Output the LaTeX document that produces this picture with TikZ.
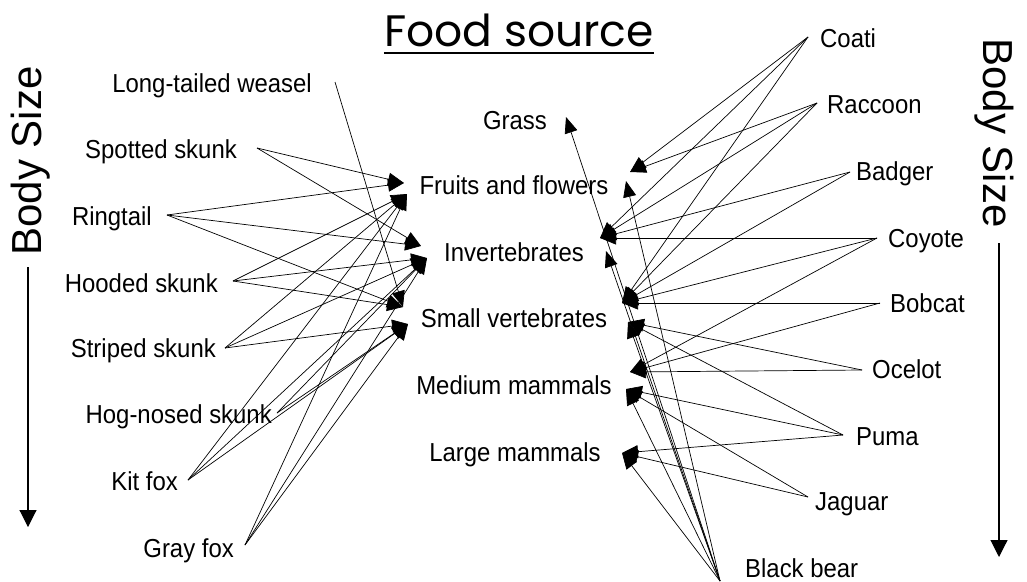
\documentclass[tikz,border=0pt]{standalone}
\usepackage{fontspec}
\setmainfont[FakeStretch=0.92]{Liberation Sans}
\newfontfamily\sizefont{Liberation Sans}
\newfontfamily\titlefont{Poppins}
\usetikzlibrary{arrows.meta}

\begin{document}
\begin{tikzpicture}[x=1pt,y=-1pt,
    animal/.style={inner sep=0pt,font=\fontsize{26}{26}\selectfont},
    food/.style={inner sep=0pt,anchor=base,font=\fontsize{26}{26}\selectfont},
    eats/.style={line width=0.7pt,-{Triangle[length=16pt,width=13pt]}},
    sizearrow/.style={line width=1.1pt,-{Triangle[length=17pt,width=17pt]}}]
  \useasboundingbox (0,0) rectangle (1027,581);

  % title
  \node[anchor=base,inner sep=0pt,font=\titlefont\fontsize{44}{44}\selectfont]
        (title) at (519,46) {Food source};
  \draw[line width=2pt]
     ([yshift=-7pt]title.base west) -- ([yshift=-7pt]title.base east);

  % body size
  \node[rotate=90,inner sep=0pt,font=\sizefont\fontsize{42}{42}\selectfont]
        (sizeL) at (31,161) {Body Size};
  \node[rotate=-90,inner sep=0pt,font=\sizefont\fontsize{42}{42}\selectfont]
        (sizeR) at (994,133) {Body Size};
  \coordinate (sizeL-a) at (28,267);
  \coordinate (sizeL-b) at (28,527);
  \coordinate (sizeR-a) at (999,243);
  \coordinate (sizeR-b) at (999,557);
  \draw[sizearrow] (sizeL-a) -- (sizeL-b);
  \draw[sizearrow] (sizeR-a) -- (sizeR-b);

  % food
  \node[food] (grass)  at (515,129) {Grass};
  \node[food] (fruits) at (514,194) {Fruits and flowers};
  \node[food] (invert) at (514,261) {Invertebrates};
  \node[food] (small)  at (514,327) {Small vertebrates};
  \node[food] (medium) at (514,394) {Medium mammals};
  \node[food] (large)  at (515,461) {Large mammals};

  % arrow ends, left of the food
  \coordinate (fruits-la) at (404,183);
  \coordinate (fruits-lb) at (407,194);
  \coordinate (invert-la) at (421,246);
  \coordinate (invert-lb) at (427,258);
  \coordinate (small-la)  at (403,307);
  \coordinate (small-lb)  at (408,324);
  % arrow ends, right of the food
  \coordinate (grass-r)   at (566,117);
  \coordinate (fruits-ra) at (630,172);
  \coordinate (fruits-rb) at (626,181);
  \coordinate (invert-ra) at (600,238);
  \coordinate (invert-rb) at (606,251);
  \coordinate (small-ra)  at (622,303);
  \coordinate (small-rb)  at (628,322);
  \coordinate (medium-ra) at (630,372);
  \coordinate (medium-rb) at (626,389);
  \coordinate (large-r)   at (622,453);

  % small carnivores
  \node[animal,anchor=base east] (weasel)   at (312,92)  {Long-tailed weasel};
  \node[animal,anchor=base east] (spotted)  at (237,158) {Spotted skunk};
  \node[animal,anchor=base east] (ringtail) at (152,225) {Ringtail};
  \node[animal,anchor=base east] (hooded)   at (218,292) {Hooded skunk};
  \node[animal,anchor=base east] (striped)  at (216,357) {Striped skunk};
  \node[animal,anchor=base east] (hognosed) at (272,423) {Hog-nosed skunk};
  \node[animal,anchor=base east] (kitfox)   at (178,490) {Kit fox};
  \node[animal,anchor=base east] (grayfox)  at (234,557) {Gray fox};

  \coordinate (weasel-o)   at (335,82);
  \coordinate (spotted-o)  at (257,148);
  \coordinate (ringtail-o) at (167,215);
  \coordinate (hooded-o)   at (233,281);
  \coordinate (striped-o)  at (225,348);
  \coordinate (hognosed-o) at (277,413);
  \coordinate (kitfox-o)   at (188,480);
  \coordinate (grayfox-o)  at (245,545);

  % large carnivores
  \node[animal,anchor=base west] (coati)   at (820,47)  {Coati};
  \node[animal,anchor=base west] (raccoon) at (827,113) {Raccoon};
  \node[animal,anchor=base west] (badger)  at (856,180) {Badger};
  \node[animal,anchor=base west] (coyote)  at (888,247) {Coyote};
  \node[animal,anchor=base west] (bobcat)  at (890,312) {Bobcat};
  \node[animal,anchor=base west] (ocelot)  at (872,378) {Ocelot};
  \node[animal,anchor=base west] (puma)    at (856,445) {Puma};
  \node[animal,anchor=base west] (jaguar)  at (815,510) {Jaguar};
  \node[animal,anchor=base west] (bear)    at (745,577) {Black bear};

  \coordinate (coati-o)   at (808,37);
  \coordinate (raccoon-o) at (817,103);
  \coordinate (badger-o)  at (850,172);
  \coordinate (coyote-o)  at (877,238);
  \coordinate (bobcat-o)  at (880,303);
  \coordinate (ocelot-o)  at (862,370);
  \coordinate (puma-o)    at (843,435);
  \coordinate (jaguar-o)  at (808,497);
  \coordinate (bear-o)    at (720,581);

  % diets, left
  \draw (weasel-o)   edge[eats] (small-la);
  \draw (spotted-o)  edge[eats] (fruits-la) edge[eats] (invert-la);
  \draw (ringtail-o) edge[eats] (fruits-la) edge[eats] (invert-la) edge[eats] (small-la);
  \draw (hooded-o)   edge[eats] (fruits-lb) edge[eats] (invert-lb) edge[eats] (small-la);
  \draw (striped-o)  edge[eats] (fruits-lb) edge[eats] (invert-lb) edge[eats] (small-lb);
  \draw (hognosed-o) edge[eats] (invert-lb) edge[eats] (small-lb);
  \draw (kitfox-o)   edge[eats] (fruits-lb) edge[eats] (invert-lb) edge[eats] (small-lb);
  \draw (grayfox-o)  edge[eats] (fruits-lb) edge[eats] (invert-lb) edge[eats] (small-lb);

  % diets, right
  \draw (coati-o)   edge[eats] (fruits-ra) edge[eats] (invert-ra) edge[eats] (small-ra);
  \draw (raccoon-o) edge[eats] (fruits-ra) edge[eats] (invert-ra) edge[eats] (small-ra);
  \draw (badger-o)  edge[eats] (invert-ra) edge[eats] (small-ra);
  \draw (coyote-o)  edge[eats] (invert-ra) edge[eats] (small-ra) edge[eats] (medium-ra);
  \draw (bobcat-o)  edge[eats] (small-ra) edge[eats] (medium-ra);
  \draw (ocelot-o)  edge[eats] (small-rb) edge[eats] (medium-ra);
  \draw (puma-o)    edge[eats] (small-rb) edge[eats] (medium-rb) edge[eats] (large-r);
  \draw (jaguar-o)  edge[eats] (medium-rb) edge[eats] (large-r);
  \draw (bear-o)    edge[eats] (grass-r) edge[eats] (fruits-rb) edge[eats] (invert-rb)
                    edge[eats] (small-rb) edge[eats] (medium-rb) edge[eats] (large-r);
\end{tikzpicture}
\end{document}
